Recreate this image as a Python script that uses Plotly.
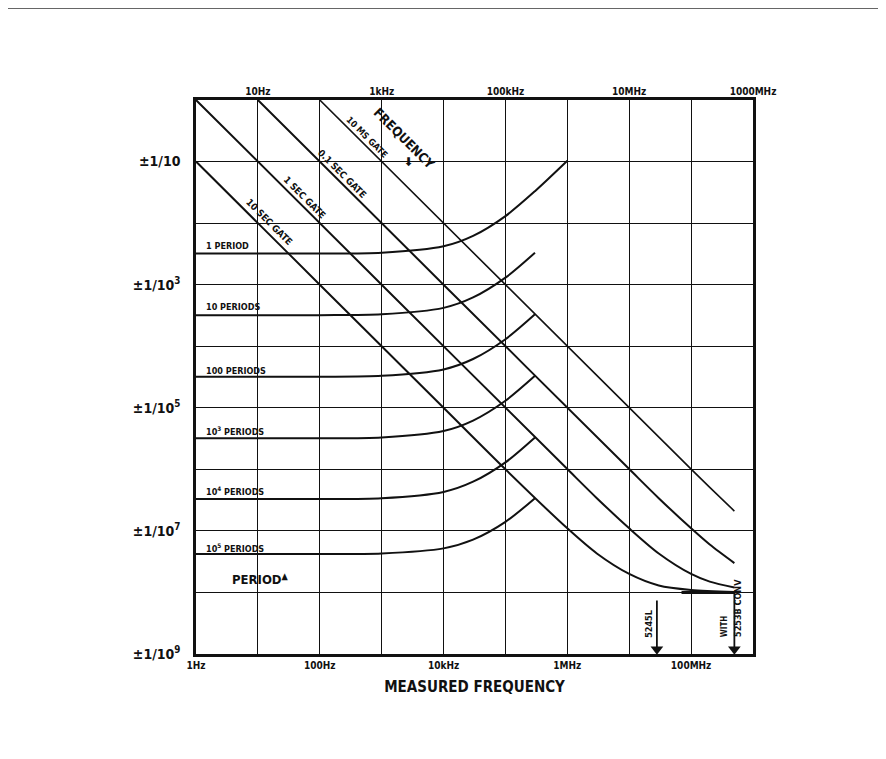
import plotly.graph_objects as go

# axis decades and tick labels
x_decades = [1, 10, 100, 1e3, 1e4, 1e5, 1e6, 1e7, 1e8, 1e9]
bottom_ticks = [1, 100, 1e4, 1e6, 1e8]
bottom_labels = ["1Hz", "100Hz", "10kHz", "1MHz", "100MHz"]
top_ticks = [10, 1e3, 1e5, 1e7, 1e9]
top_labels = ["10Hz", "1kHz", "100kHz", "10MHz", "1000MHz"]
y_decades = [1e-9, 1e-8, 1e-7, 1e-6, 1e-5, 1e-4, 1e-3, 1e-2, 1e-1, 1]
y_ticks = [1e-9, 1e-7, 1e-5, 1e-3, 1e-1]
y_labels = ["±1/10<sup>9</sup>", "±1/10<sup>7</sup>", "±1/10<sup>5</sup>",
            "±1/10<sup>3</sup>", "±1/10"]

# frequency mode, gate time curves
gate_10s_f = [1, 10, 100, 1e3, 1e4, 1e5, 1e6, 3e6, 1e7, 3e7, 1e8, 5e8]
gate_10s_y = [1e-1, 1e-2, 1e-3, 1e-4, 1e-5, 1e-6, 1.1e-7, 4.3e-8, 2e-8, 1.3e-8, 1.1e-8, 1.02e-8]
gate_1s_f = [1, 1e3, 1e6, 3e6, 1e7, 3e7, 1e8, 2e8, 5e8]
gate_1s_y = [1, 1e-3, 1.01e-6, 3.4e-7, 1.1e-7, 4.3e-8, 2e-8, 1.5e-8, 1.2e-8]
gate_01s_f = [10, 1e4, 1e7, 3e7, 1e8, 2e8, 5e8]
gate_01s_y = [1, 1e-3, 1.01e-6, 3.4e-7, 1.1e-7, 6e-8, 3e-8]
gate_10ms_f = [100, 1e5, 1e8, 2e8, 5e8]
gate_10ms_y = [1, 1e-3, 1.01e-6, 5.1e-7, 2.1e-7]

# period mode curves
period_f = [1, 100, 1e3, 1e4, 3e4, 1e5, 3e5]
period_1_f = [1, 100, 1e3, 1e4, 3e4, 1e5, 3e5, 1e6]
period_1_y = [3.2e-3, 3.2e-3, 3.3e-3, 4.2e-3, 6.2e-3, 1.3e-2, 3.3e-2, 1.03e-1]
period_10_y = [3.2e-4, 3.2e-4, 3.3e-4, 4.2e-4, 6.2e-4, 1.3e-3, 3.3e-3]
period_100_y = [3.2e-5, 3.2e-5, 3.3e-5, 4.2e-5, 6.2e-5, 1.3e-4, 3.3e-4]
period_1e3_y = [3.2e-6, 3.2e-6, 3.3e-6, 4.2e-6, 6.2e-6, 1.3e-5, 3.3e-5]
period_1e4_y = [3.3e-7, 3.3e-7, 3.4e-7, 4.3e-7, 6.3e-7, 1.3e-6, 3.3e-6]
period_1e5_y = [4.2e-8, 4.2e-8, 4.3e-8, 5.2e-8, 7.2e-8, 1.4e-7, 3.4e-7]

# time base floor and instrument limit arrows
floor_f = [7e7, 5e8]
floor_y = [1e-8, 1e-8]
limit_5245l_f = [2.8e7, 2.8e7]
limit_5245l_y = [7.4e-9, 1.2e-9]
limit_5253b_f = [5e8, 5e8]
limit_5253b_y = [1.05e-8, 1.2e-9]

FONT = "DejaVu Sans Condensed, Liberation Sans Narrow, DejaVu Sans, sans-serif"
INK = "#111111"

fig = go.Figure()


def curve(xs, ys, w=2):
    fig.add_trace(go.Scatter(x=xs, y=ys, mode="lines",
                             line=dict(color=INK, width=w, shape="spline", smoothing=0.8),
                             hoverinfo="skip"))


curve(gate_10s_f, gate_10s_y)
curve(gate_1s_f, gate_1s_y)
curve(gate_01s_f, gate_01s_y)
curve(gate_10ms_f, gate_10ms_y, 1.6)
curve(period_1_f, period_1_y)
for ys in [period_10_y, period_100_y, period_1e3_y, period_1e4_y, period_1e5_y]:
    curve(period_f, ys)
curve(floor_f, floor_y, 3)

# limit arrows: a stem with a head at the bottom end
for xs, ys in [(limit_5245l_f, limit_5245l_y), (limit_5253b_f, limit_5253b_y)]:
    fig.add_trace(go.Scatter(x=xs, y=ys, mode="lines+markers",
                             line=dict(color=INK, width=1.8),
                             marker=dict(symbol=["circle", "triangle-down"], size=[0, 11],
                                         color=INK, opacity=1, line=dict(width=0)),
                             cliponaxis=False, hoverinfo="skip"))

# dummy trace so the top axis gets drawn
fig.add_trace(go.Scatter(x=[1, 1e9], y=[1e-9, 1e-9], xaxis="x2", mode="lines",
                         line=dict(width=0), showlegend=False, hoverinfo="skip"))

ann = []


def label(x, y, text, size=8, angle=0, xanchor="center"):
    ann.append(dict(x=x, y=y, xref="x", yref="y", text=text, showarrow=False,
                    textangle=angle, xanchor=xanchor,
                    font=dict(family=FONT, size=size, color=INK, weight="bold")))


# gate labels (log coordinates)
label(3.36, -0.63, "FREQUENCY", 13, 45)
label(3.44, -1.0, "⬇", 12)
label(2.76, -0.60, "10 MS GATE", 9, 45)
label(2.36, -1.20, "0.1 SEC GATE", 9.5, 45)
label(1.76, -1.59, "1 SEC GATE", 9.5, 45)
label(1.18, -1.98, "10 SEC GATE", 9.5, 45)

# period labels
for yy, txt in [(-2.37, "1 PERIOD"), (-3.36, "10 PERIODS"), (-4.40, "100 PERIODS"),
                (-5.37, "10<sup>3</sup> PERIODS"), (-6.36, "10<sup>4</sup> PERIODS"),
                (-7.27, "10<sup>5</sup> PERIODS")]:
    label(0.13, yy, txt, 9, 0, "left")
label(1.05, -7.78, "PERIOD<sup>▲</sup>", 13)

label(7.32, -8.51, "5245L", 9, -90)
label(8.53, -8.55, "WITH", 8, -90)
label(8.76, -8.25, "5253B CONV", 9, -90)

grid = dict(showgrid=True, gridcolor=INK, gridwidth=1.3)

fig.update_layout(
    width=886, height=759,
    margin=dict(l=188, r=141, t=92, b=113),
    paper_bgcolor="white", plot_bgcolor="white",
    showlegend=False,
    annotations=ann,
    shapes=[dict(type="line", xref="paper", yref="paper", x0=-0.36, x1=1.25,
                 y0=1.166, y1=1.166, line=dict(color="#333", width=1.5))],
    xaxis=dict(type="log", range=[0, 9], tickvals=bottom_ticks, ticktext=bottom_labels,
               minor=dict(tickvals=x_decades, ticks="", **grid), **grid,
               zeroline=False, showline=True, linecolor=INK, linewidth=2.5, mirror=True,
               ticks="",
               tickfont=dict(family=FONT, size=10, color=INK, weight="bold"),
               title=dict(text="MEASURED FREQUENCY", standoff=12,
                          font=dict(family=FONT, size=15, color=INK, weight="bold"))),
    xaxis2=dict(type="log", range=[0, 9], overlaying="x", side="top", anchor="y",
                tickvals=top_ticks, ticktext=top_labels, showgrid=False, zeroline=False,
                ticks="", ticklabelstandoff=2,
                tickfont=dict(family=FONT, size=10, color=INK, weight="bold")),
    yaxis=dict(type="log", range=[-9, 0], tickvals=y_ticks, ticktext=y_labels,
               minor=dict(tickvals=y_decades, ticks="", **grid), **grid,
               zeroline=False, showline=True, linecolor=INK, linewidth=2.5, mirror=True,
               ticks="", ticklabelstandoff=10,
               tickfont=dict(family=FONT, size=14, color=INK, weight="bold")),
)

fig.write_html("out.html")
